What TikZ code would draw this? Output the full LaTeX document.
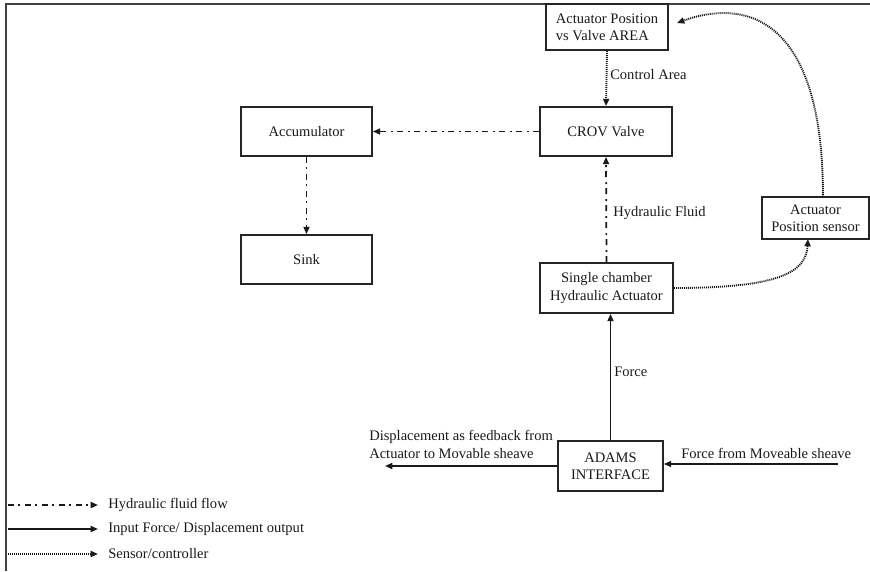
\documentclass[tikz,border=0pt]{standalone}
\usepackage{fontspec}
\setmainfont{Liberation Serif}
\usetikzlibrary{arrows.meta}
\begin{document}
\begin{tikzpicture}[x=0.75pt,y=-0.75pt,
  ink/.style={black!90},
  txt/.style={text=black!90,font=\fontsize{10.9pt}{13pt}\selectfont},
  block/.style={draw=black!85,line width=1.3pt,fill=white,txt,inner sep=2pt,align=center},
  lbl/.style={txt,inner sep=0pt},
  tip/.style={-{Triangle[length=5.5pt,width=4.5pt]}},
  solidflow/.style={ink,line width=1.3pt,tip},
  fluidflow/.style={ink,line width=1.3pt,tip,dash pattern=on 4.5pt off 3pt on 1.5pt off 3.75pt},
  sensorflow/.style={ink,line width=1.4pt,tip,dash pattern=on 0.8pt off 0.7pt}]
\useasboundingbox (0,0) rectangle (870,571);
% partial frame along the top and left edges
\draw[black!75,line width=1.5pt] (6,571) -- (6,4) -- (870,4);

% blocks
\node[block,minimum width=91.5pt,minimum height=34.5pt,align=left] (apos) at (607,27) {Actuator Position\\vs Valve AREA};
\node[block,minimum width=99pt,minimum height=36.75pt] (crov) at (606,131.5) {CROV Valve};
\node[block,minimum width=98.25pt,minimum height=36.75pt] (acc) at (306.5,131.5) {Accumulator};
\node[block,minimum width=98.25pt,minimum height=36.75pt] (sink) at (306.5,259.5) {Sink};
\node[block,minimum width=99.75pt,minimum height=37.5pt] (sca) at (606.5,288) {Single chamber\\Hydraulic Actuator};
\node[block,minimum width=80.25pt,minimum height=31.5pt] (sens) at (815.5,218) {Actuator\\Position sensor};
\node[block,minimum width=78.75pt,minimum height=37.5pt] (adams) at (610.5,466) {ADAMS\\INTERFACE};

% free ends of the input/output connectors and curve ends
\coordinate (fin) at (838,464);
\coordinate (dout) at (385,466);
\coordinate (senin) at (808,239);
\coordinate (senout) at (823,197);
\coordinate (aposin) at (677,23);

% hydraulic fluid
\draw[fluidflow] (crov.west) -- (acc.east);
\draw[fluidflow] (acc.south) -- (sink.north);
\draw[fluidflow] (sca.north) -- (crov.south);

% sensor / controller
\draw[sensorflow] (apos.south) -- (crov.north);
\draw[sensorflow] (sca.east) .. controls (780,288) and (806,272) .. (senin);
\draw[sensorflow] (senout) .. controls (823,10) and (740,0) .. (aposin);

% forces and displacement
\draw[solidflow] (adams.north) -- (adams.north |- sca.south);
\draw[solidflow] (fin) -- (fin -| adams.east);
\draw[solidflow] (dout -| adams.west) -- (dout);

% connector labels
\node[lbl,anchor=west] (lca) at (610,75) {Control Area};
\node[lbl,anchor=west] (lhf) at (613,213) {Hydraulic Fluid};
\node[lbl,anchor=west] (lfo) at (614,372) {Force};
\node[lbl,anchor=west] (lfm) at (681,453) {Force from Moveable sheave};
\node[lbl,anchor=west,align=left] (ldi) at (369,444.5) {Displacement as feedback from\\Actuator to Movable sheave};

% legend
\coordinate (k1a) at (8,505); \coordinate (k1b) at (98,505);
\coordinate (k2a) at (8,529); \coordinate (k2b) at (98,529);
\coordinate (k3a) at (8,554); \coordinate (k3b) at (98,554);
\draw[fluidflow] (k1a) -- (k1b);
\draw[solidflow] (k2a) -- (k2b);
\draw[sensorflow] (k3a) -- (k3b);
\node[lbl,anchor=west] (t1) at (108,505) {Hydraulic fluid flow};
\node[lbl,anchor=west] (t2) at (108,529) {Input Force/ Displacement output};
\node[lbl,anchor=west] (t3) at (108,554) {Sensor/controller};
\end{tikzpicture}
\end{document}
